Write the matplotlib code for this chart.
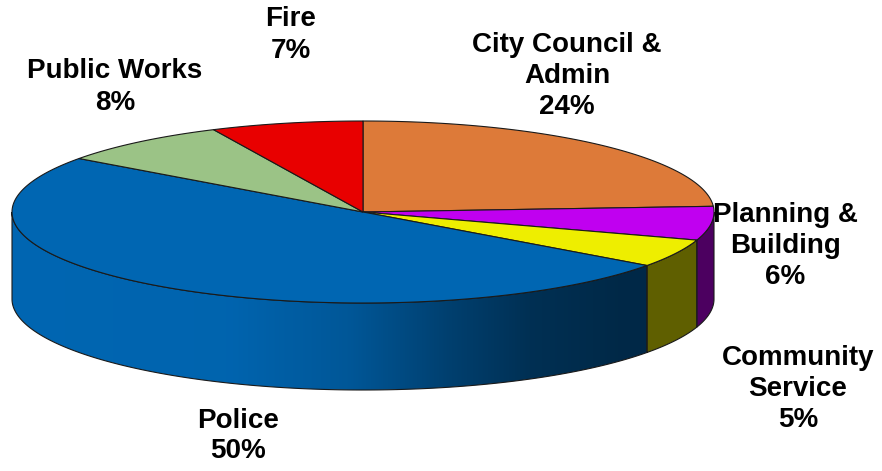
import numpy as np
import matplotlib.pyplot as plt
from matplotlib.patches import Polygon
from matplotlib.colors import to_rgb

labels = ["City Council &\nAdmin", "Planning &\nBuilding", "Community\nService",
          "Police", "Public Works", "Fire"]
shares = [24, 6, 5, 50, 8, 7]
colors = ["#DD7A39", "#C000F0", "#EEEE00", "#0066B2", "#9BC386", "#E80000"]

# label anchor (pixel coords of the text block centre)
label_xy = [(567, 76), (785, 246), (798, 389), (238, 436), (115, 87), (291, 35)]

# pie geometry in pixels
cx, cy = 363, 212
rx, ry = 351, 91
depth = 87

W, H = 882, 471
fig = plt.figure(figsize=(W / 100, H / 100), dpi=100)
ax = fig.add_axes([0, 0, 1, 1])
ax.set_xlim(0, W)
ax.set_ylim(H, 0)
ax.axis("off")


def arc(t1, t2, n=200, dy=0):
    t = np.radians(np.linspace(t1, t2, n))
    return np.column_stack([cx + rx * np.cos(t), cy - ry * np.sin(t) + dy])


# side shading, darker towards the right
shade_x = [0, 230, 350, 450, 530, 620, 760]
shade_f = [1.0, 0.98, 0.85, 0.62, 0.47, 0.40, 0.40]
xs = np.arange(W)
shade = np.interp(xs, shade_x, shade_f)

# slice angles: start at 12 o'clock, clockwise
bounds = 90 - 360 * np.concatenate([[0], np.cumsum(shares)]) / 100.0

# sides (front half only: angles in [-180, 0])
for i, col in enumerate(colors):
    hi, lo = bounds[i], bounds[i + 1]
    a1, a2 = min(hi, 0), max(lo, -180)
    if a1 <= a2:
        continue
    top = arc(a1, a2)
    bot = arc(a2, a1, dy=depth)
    poly = np.vstack([top, bot])
    patch = Polygon(poly, closed=True, facecolor="none", edgecolor="none")
    ax.add_patch(patch)
    rgb = np.array(to_rgb(col))
    img = np.ones((H, W, 3)) * rgb[None, None, :] * shade[None, :, None]
    im = ax.imshow(img, extent=(0, W, H, 0), origin="upper", zorder=1,
                   interpolation="bilinear", aspect="auto")
    im.set_clip_path(patch)
    ax.add_patch(Polygon(poly, closed=True, facecolor="none",
                         edgecolor="#1a1a1a", linewidth=0.8, zorder=2))

# tops
for i, col in enumerate(colors):
    pts = np.vstack([[cx, cy], arc(bounds[i], bounds[i + 1])])
    ax.add_patch(Polygon(pts, closed=True, facecolor=col, edgecolor="#1a1a1a",
                         linewidth=0.8, zorder=3))

# labels
for lab, share, (x, y) in zip(labels, shares, label_xy):
    ax.text(x, y, f"{lab}\n{share}%", ha="center", va="center",
            fontsize=20, fontweight="bold", family="Liberation Sans",
            linespacing=1.25, zorder=5)

fig.savefig("out.png", dpi=100)
